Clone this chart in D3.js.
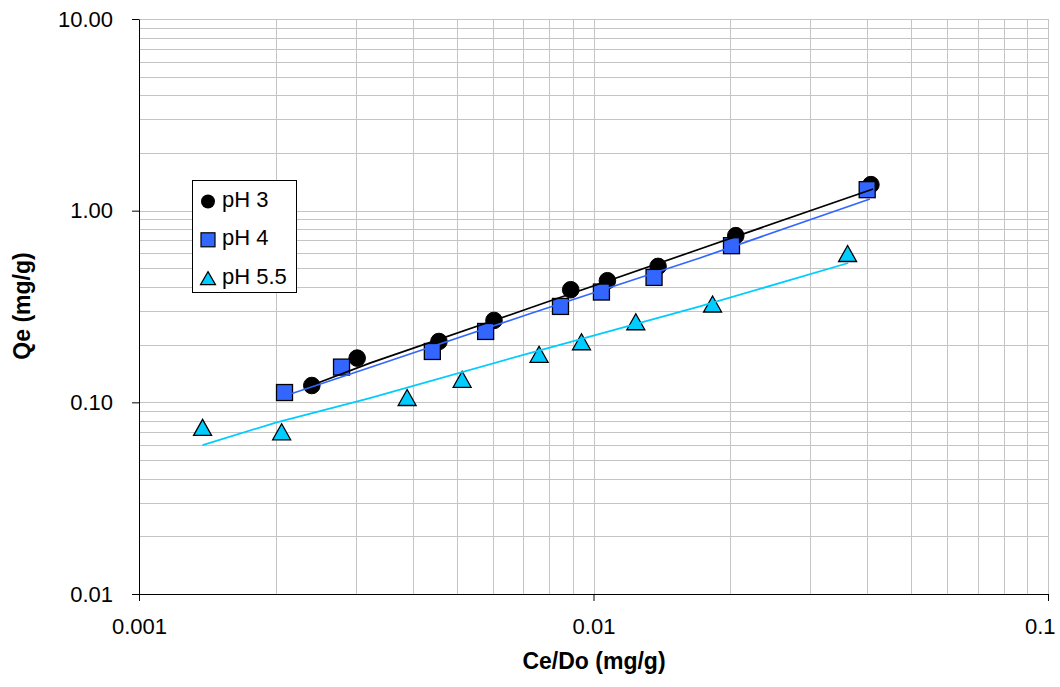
<!DOCTYPE html>
<html>
<head>
<meta charset="utf-8">
<script src="https://cdnjs.cloudflare.com/ajax/libs/d3/7.8.5/d3.min.js"></script>
<style>
  body { margin: 0; background: #fff; }
  #chart text { font-family: Arial, "Liberation Sans", sans-serif; fill: #000; }
</style>
</head>
<body>
<div id="chart"></div>
<script>
// series names (legend)
var seriesNames = ["pH 3", "pH 4", "pH 5.5"];

// measured points, Ce/Do vs Qe
var ph3Ce = [0.00240, 0.00302, 0.00457, 0.00604, 0.00891, 0.01073, 0.01387, 0.02056, 0.04077];
var ph3Qe = [0.1224, 0.1701, 0.2077, 0.2675, 0.3868, 0.4310, 0.5118, 0.7405, 1.367];

var ph4Ce = [0.00209, 0.00279, 0.00442, 0.00579, 0.00846, 0.01041, 0.01359, 0.02012, 0.04001];
var ph4Qe = [0.1125, 0.1527, 0.1842, 0.2343, 0.3165, 0.3763, 0.4485, 0.6565, 1.287];

var ph55Ce = [0.00138, 0.00206, 0.00389, 0.00514, 0.00759, 0.00941, 0.01239, 0.01828, 0.03623];
var ph55Qe = [0.0740, 0.0702, 0.1060, 0.1319, 0.1781, 0.2070, 0.2633, 0.3258, 0.5977];

// fitted curves
var fit3Ce = [0.00240, 0.00322, 0.00724, 0.01714, 0.04124];
var fit3Qe = [0.1227, 0.1602, 0.3104, 0.6310, 1.298];

var fit4Ce = [0.00209, 0.00322, 0.00724, 0.01714, 0.04057];
var fit4Qe = [0.1079, 0.1520, 0.2898, 0.5662, 1.151];

var fit55Ce = [0.00138, 0.00200, 0.00322, 0.00724, 0.01714, 0.03634];
var fit55Qe = [0.0598, 0.0784, 0.1052, 0.1807, 0.3165, 0.5332];

// axis ticks
var xTickValues = [0.001, 0.01, 0.1];
var xTickLabels = ["0.001", "0.01", "0.1"];
var yTickValues = [0.01, 0.1, 1, 10];
var yTickLabels = ["0.01", "0.10", "1.00", "10.00"];

var zip = function(xs, ys) {
  return xs.map(function(d, i) { return { x: d, y: ys[i] }; });
};

var visualize = function() {
  var margin = { top: 19, right: 12, bottom: 93, left: 139 },
      width = 1060 - margin.left - margin.right,
      height = 687 - margin.top - margin.bottom;

  var root = d3.select("#chart")
    .append("svg")
    .attr("width", 1060)
    .attr("height", 687);

  var svg = root.append("g")
    .attr("transform", "translate(" + margin.left + "," + margin.top + ")");

  var x = d3.scaleLog().domain([0.001, 0.1]).range([0, width]);
  var y = d3.scaleLog().domain([0.01, 10]).range([height, 0]);

  // gridlines at every 1..9 step
  svg.append("g")
    .selectAll("line")
    .data(x.ticks())
    .enter()
    .append("line")
    .attr("x1", function(d) { return Math.round(x(d)) + 0.5; })
    .attr("x2", function(d) { return Math.round(x(d)) + 0.5; })
    .attr("y1", 0)
    .attr("y2", height)
    .attr("stroke", "#c4c4c4")
    .attr("stroke-width", 1);

  svg.append("g")
    .selectAll("line")
    .data(y.ticks())
    .enter()
    .append("line")
    .attr("y1", function(d) { return Math.round(y(d)) + 0.5; })
    .attr("y2", function(d) { return Math.round(y(d)) + 0.5; })
    .attr("x1", 0)
    .attr("x2", width)
    .attr("stroke", "#c4c4c4")
    .attr("stroke-width", 1);

  // axes
  var yAxis = d3.axisLeft(y)
    .tickValues(yTickValues)
    .tickFormat(function(d, i) { return yTickLabels[i]; })
    .tickSize(7)
    .tickSizeOuter(0)
    .tickPadding(19);
  var gy = svg.append("g").call(yAxis);

  var xAxis = d3.axisBottom(x)
    .tickValues(xTickValues)
    .tickFormat(function(d, i) { return xTickLabels[i]; })
    .tickSize(7)
    .tickSizeOuter(0)
    .tickPadding(17);
  var gx = svg.append("g")
    .attr("transform", "translate(0," + height + ")")
    .call(xAxis);

  [gx, gy].forEach(function(g) {
    g.select(".domain").attr("stroke", "#000");
    g.selectAll(".tick line").attr("stroke", "#000");
    g.selectAll(".tick text")
      .style("font-size", "22px")
      .attr("fill", "#000");
  });

  // last x label is kept inside the picture, like the original
  gx.selectAll(".tick text")
    .filter(function(d, i) { return i === xTickValues.length - 1; })
    .attr("text-anchor", "end")
    .attr("x", 7);

  var tri = function(w, h) {
    return "M0," + (-h / 2) + "L" + (w / 2) + "," + (h / 2) + "L" + (-w / 2) + "," + (h / 2) + "Z";
  };

  // markers
  svg.append("g")
    .selectAll("circle")
    .data(zip(ph3Ce, ph3Qe))
    .enter()
    .append("circle")
    .attr("cx", function(d) { return x(d.x); })
    .attr("cy", function(d) { return y(d.y); })
    .attr("r", 8.3)
    .attr("fill", "#000")
    .attr("stroke", "#000");

  svg.append("g")
    .selectAll("rect")
    .data(zip(ph4Ce, ph4Qe))
    .enter()
    .append("rect")
    .attr("x", function(d) { return x(d.x) - 8; })
    .attr("y", function(d) { return y(d.y) - 8; })
    .attr("width", 16)
    .attr("height", 16)
    .attr("fill", "#3366ff")
    .attr("stroke", "#000")
    .attr("stroke-width", 1.3);

  svg.append("g")
    .selectAll("path")
    .data(zip(ph55Ce, ph55Qe))
    .enter()
    .append("path")
    .attr("d", tri(18, 16))
    .attr("transform", function(d) { return "translate(" + x(d.x) + "," + y(d.y) + ")"; })
    .attr("fill", "#00ccff")
    .attr("stroke", "#000")
    .attr("stroke-width", 1.3)
    .attr("stroke-linejoin", "miter");

  // fitted lines
  var line = d3.line()
    .x(function(d) { return x(d.x); })
    .y(function(d) { return y(d.y); });

  var fits = [
    { pts: zip(fit3Ce, fit3Qe), color: "#000000" },
    { pts: zip(fit4Ce, fit4Qe), color: "#3366ff" },
    { pts: zip(fit55Ce, fit55Qe), color: "#00ccff" }
  ];

  svg.selectAll(".fit")
    .data(fits)
    .enter()
    .append("path")
    .attr("class", "fit")
    .attr("d", function(d) { return line(d.pts); })
    .attr("fill", "none")
    .attr("stroke", function(d) { return d.color; })
    .attr("stroke-width", 1.7);

  // axis titles
  root.append("text")
    .attr("x", 594)
    .attr("y", 669)
    .attr("text-anchor", "middle")
    .style("font-size", "23px")
    .style("font-weight", "bold")
    .text("Ce/Do (mg/g)");

  root.append("text")
    .attr("transform", "translate(30,306) rotate(-90)")
    .attr("text-anchor", "middle")
    .style("font-size", "23px")
    .style("font-weight", "bold")
    .text("Qe (mg/g)");

  // legend
  var legend = root.append("g");
  legend.append("rect")
    .attr("x", 192.5)
    .attr("y", 180.5)
    .attr("width", 104)
    .attr("height", 112)
    .attr("fill", "#fff")
    .attr("stroke", "#000")
    .attr("stroke-width", 1);

  var rows = legend.selectAll(".row")
    .data(seriesNames)
    .enter()
    .append("g")
    .attr("class", "row")
    .attr("transform", function(d, i) { return "translate(208," + (201.5 + i * 38.3) + ")"; });

  rows.filter(function(d, i) { return i === 0; })
    .append("circle")
    .attr("r", 7)
    .attr("fill", "#000");

  rows.filter(function(d, i) { return i === 1; })
    .append("rect")
    .attr("x", -7).attr("y", -7)
    .attr("width", 14).attr("height", 14)
    .attr("fill", "#3366ff")
    .attr("stroke", "#000")
    .attr("stroke-width", 1.2);

  rows.filter(function(d, i) { return i === 2; })
    .append("path")
    .attr("d", tri(15, 13))
    .attr("fill", "#00ccff")
    .attr("stroke", "#000")
    .attr("stroke-width", 1.2);

  rows.append("text")
    .attr("x", 14)
    .attr("y", 5.5)
    .style("font-size", "22px")
    .text(function(d) { return d; });
};

visualize();
</script>
</body>
</html>
